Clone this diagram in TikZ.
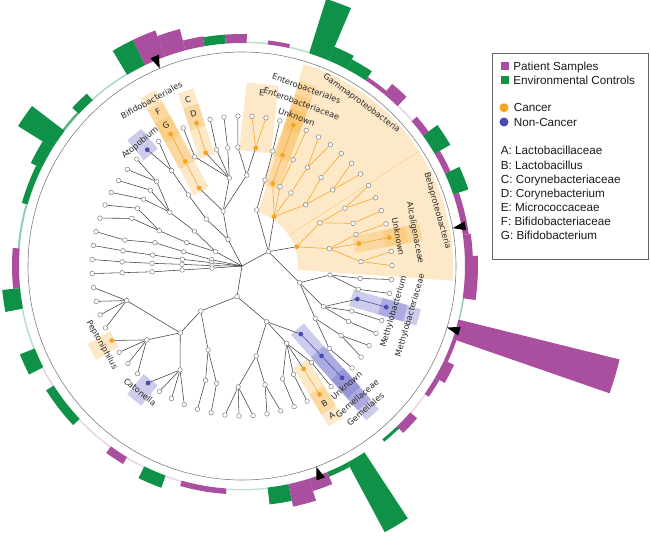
\documentclass[tikz,border=0pt]{standalone}
\usepackage{fontspec}
\setmainfont{Liberation Sans}
\newfontfamily\treefont{DejaVu Sans}
\usetikzlibrary{positioning}

\definecolor{patient}{RGB}{170,79,160}
\definecolor{control}{RGB}{15,145,72}
\definecolor{cancer}{RGB}{246,163,33}
\definecolor{noncancer}{RGB}{74,74,176}
\definecolor{hlorange}{RGB}{247,180,70}
\definecolor{hlblue}{RGB}{110,110,200}

\begin{document}
\begin{tikzpicture}[x=1pt, y=1pt,
    tnode/.style = {circle, draw=black!50, fill=white, line width=0.5pt,
        inner sep=0pt, minimum size=4.6pt},
    cnode/.style = {circle, fill=cancer, inner sep=0pt, minimum size=4.8pt},
    nnode/.style = {circle, fill=noncancer, inner sep=0pt, minimum size=4.8pt},
    tedge/.style = {draw=black!75, line width=0.55pt},
    cedge/.style = {draw=cancer, line width=0.55pt},
    nedge/.style = {draw=noncancer, line width=0.6pt},
    hlo/.style = {fill=hlorange, fill opacity=0.3},
    hlb/.style = {fill=hlblue, fill opacity=0.35},
    tlabel/.style = {font=\treefont\fontsize{8.2}{9.8}\selectfont,
        text=black!85, inner sep=0pt},
    ltext/.style = {font=\fontsize{11.7}{14}\selectfont, text=black!90,
        inner sep=0pt, text height=8.4pt, text depth=0pt, anchor=west},
    lsq/.style = {inner sep=0pt, minimum size=8pt},
    ldot/.style = {circle, inner sep=0pt, minimum size=9pt}]

\useasboundingbox (-242,-273) rectangle (408,266);

% Proteobacteria wedge
\fill[hlo] (-4:56) arc[start angle=-4, end angle=73, radius=56]
    -- (73:211) arc[start angle=73, end angle=-4, radius=211] -- cycle;
\draw[cancer!55, line width=0.5pt] (33:57) -- (33:211);

% Clade strips
\foreach \t/\ra/\rb/\w/\c in {
    118.6/85/196/8.5/hlo, 118.5/115/182/8.5/hlo, 118.4/145/167/8.5/hlo,
    107.8/115/184/8/hlo, 107.7/145/168/8/hlo,
    83.5/115/183/16/hlo,
    70/84/194/8.5/hlo, 70/114/180/8.5/hlo, 70/144/165/8.5/hlo,
    10.8/114/182/8.5/hlo, 10.8/145/168/8.5/hlo,
    301/114/182/8.5/hlo, 301/145/168/8.5/hlo,
    209.8/147/173/9/hlo,
    311.3/84/198/8.5/hlb, 311.4/114/185/8.5/hlb, 311.6/144/169/8.5/hlb,
    343.8/114/184/8.5/hlb, 343.9/144/170/8.5/hlb,
    129.3/144/170/9/hlb,
    231.2/146/172/9/hlb}
    \fill[\c, rotate=\t] (\ra,-\w) rectangle (\rb,\w);

% Inner circle
\draw[black!50, line width=0.6pt] (0,0) circle (214);

% Tree
\coordinate (root) at (0,0);
\def\innernodes{
    pAct/117.8/30/root/tnode/tedge, cAct/109/58/pAct/tnode/tedge,
    cCor/127.3/59/pAct/tnode/tedge, oActm/98.2/89/cAct/tnode/tedge,
    oMic/87/91/cAct/tnode/tedge, oBif/118.8/89/cAct/cnode/tedge,
    oCor/127/89/cCor/tnode/tedge, fk1/92/119/oMic/tnode/tedge,
    fE/83.4/119/oMic/cnode/tedge, fk2/96.9/119/oActm/tnode/tedge,
    fk3/102.3/119/oActm/tnode/tedge, fC/107.8/119/oActm/cnode/tedge,
    fk4/113.4/119/oActm/tnode/tedge, fF/118.5/119/oBif/cnode/cedge,
    fAt/126.4/118.6/oCor/tnode/tedge,
    pL1/151.5/30/root/tnode/tedge, cL1/143.7/59/pL1/tnode/tedge,
    cL2/157/60/pL1/tnode/tedge, oL1/143.3/90/cL1/tnode/tedge,
    oL2/156.9/90/cL2/tnode/tedge, fL1/135.3/120/oL1/tnode/tedge,
    fL2/140.4/119/oL1/tnode/tedge, fL3/145.8/119/oL1/tnode/tedge,
    fL4/151.1/119.5/oL2/tnode/tedge, fL5/156.6/120/oL2/tnode/tedge,
    pL3/168.4/31/root/tnode/tedge, cL3/166.3/60/pL3/tnode/tedge,
    oL3/165/90/cL3/tnode/tedge, fL6/167.5/120/oL3/tnode/tedge,
    pL4/173.8/30.5/root/tnode/tedge, cL4/173.6/60/pL4/tnode/tedge,
    oL4/173/90/cL4/tnode/tedge, fL7/172.7/120/oL4/tnode/tedge,
    pL5/179.4/30/root/tnode/tedge, cL5/178.4/60/pL5/tnode/tedge,
    oL5/178.3/90/cL5/tnode/tedge, fL8/178/120/oL5/tnode/tedge,
    pL6/184/30/root/tnode/tedge, cL6/183.8/60/pL6/tnode/tedge,
    oL6/183.7/90/cL6/tnode/tedge, fL9/183.2/120/oL6/tnode/tedge,
    pFir/260.8/31/root/tnode/tedge, cClo/227.5/61/pFir/tnode/tedge,
    oClo/227.3/91/cClo/tnode/tedge, oCl2/248/90.5/cClo/tnode/tedge,
    fc1/196.7/120.4/oClo/tnode/tedge, fc2/217.8/120.6/oClo/tnode/tedge,
    fc3/239.2/121/oClo/tnode/tedge, fc4/252.3/120/oCl2/tnode/tedge,
    fc5/257.8/120/oCl2/tnode/tedge,
    cBac/293.9/61/pFir/tnode/tedge, oBa1/279/91/cBac/tnode/tedge,
    oLac/300/89.3/cBac/tnode/tedge, oGem/310.8/90/cBac/nnode/tedge,
    fB1/268.2/121/oBa1/tnode/tedge, fB2/281/121/oBa1/tnode/tedge,
    fB3/289.8/120/oLac/tnode/tedge, fB4/295.4/120/oLac/tnode/tedge,
    fA/300.9/120/oLac/cnode/tedge, fB5/305.8/119/oLac/tnode/tedge,
    fGem/311.5/120/oGem/nnode/nedge,
    pPro/28.5/30/root/tnode/tedge, cGam/57/59/pPro/cnode/tedge,
    cBet/19.4/58/pPro/cnode/tedge, cX/75.3/58/pPro/tnode/tedge,
    cAlp/343.8/60/pPro/tnode/tedge, oX/75/89/cX/tnode/tedge,
    fX/75/119/oX/tnode/tedge,
    oEnt/69.6/88/cGam/cnode/cedge, oG2/64.4/88/cGam/tnode/cedge,
    oG3/56.2/88/cGam/tnode/cedge, oG4/43.9/88.4/cGam/tnode/cedge,
    fEnt/69.9/118/oEnt/cnode/cedge, fG2/64.3/118/oG2/tnode/cedge,
    fG3/56.4/118.5/oG3/tnode/cedge, fG4/48.2/118.5/oG4/tnode/cedge,
    fG5/40/118.3/oG4/tnode/cedge,
    oBe1/29/89/cBet/tnode/cedge, oBe2/11.2/89/cBet/tnode/cedge,
    fb1/29.3/118/oBe1/tnode/cedge, fb2/21/119/oBe1/tnode/cedge,
    fb3/15.5/118.3/oBe2/tnode/cedge, fAlc/10.9/119/oBe2/cnode/cedge,
    fb4/2.1/119/oBe2/tnode/cedge,
    oA1/354.2/88.5/cAlp/tnode/tedge, oA2/333.4/91/cAlp/tnode/tedge,
    oA3/324.4/90/cAlp/tnode/tedge, fh1/348.7/118.6/oA1/tnode/tedge,
    fh2/354/119/oA1/tnode/tedge, fMet/344/120/oA2/nnode/tedge,
    fh3/337.7/118.6/oA2/tnode/tedge, fh4/332.5/120/oA2/tnode/tedge,
    fh5/325/121/oA3/tnode/tedge, fh6/316.6/120/oA3/tnode/tedge}

\foreach \n/\ang/\r/\p/\s/\e in \innernodes
    \node[\s] (\n) at (\ang:\r) {};
\foreach \n/\ang/\r/\p/\s/\e in \innernodes
    \draw[\e] (\n) -- (\p);

% Leaves
\foreach \i/\p/\s/\e in {
    0/fE/tnode/cedge, 1/fE/tnode/cedge, 2/fk1/tnode/tedge, 3/fk2/tnode/tedge,
    4/fk3/tnode/tedge, 5/fC/cnode/cedge, 6/fk4/tnode/tedge, 7/fF/cnode/cedge,
    8/fAt/tnode/tedge, 9/fAt/nnode/tedge, 10/fL1/tnode/tedge, 11/fL1/tnode/tedge,
    12/fL2/tnode/tedge, 13/fL3/tnode/tedge, 14/fL4/tnode/tedge, 15/fL5/tnode/tedge,
    16/fL6/tnode/tedge, 17/fL7/tnode/tedge, 18/fL8/tnode/tedge, 19/fL9/tnode/tedge,
    20/fc1/tnode/tedge, 21/fc1/tnode/tedge, 22/fc1/tnode/tedge, 23/fc1/tnode/tedge,
    24/fc2/cnode/tedge, 25/fc2/tnode/tedge, 26/fc2/tnode/tedge, 27/fc2/tnode/tedge,
    28/fc3/nnode/tedge, 29/fc3/tnode/tedge, 30/fc3/tnode/tedge, 31/fc3/tnode/tedge,
    32/fc4/tnode/tedge, 33/fc5/tnode/tedge, 34/fB1/tnode/tedge, 35/fB1/tnode/tedge,
    36/fB1/tnode/tedge, 37/fB2/tnode/tedge, 38/fB2/tnode/tedge, 39/fB3/tnode/tedge,
    40/fB4/tnode/tedge, 41/fA/cnode/cedge, 42/fB5/tnode/tedge, 43/fGem/nnode/nedge,
    44/fh6/tnode/tedge, 45/fh5/tnode/tedge, 46/fh5/tnode/tedge, 47/fh4/tnode/tedge,
    48/fh3/tnode/tedge, 49/fMet/nnode/nedge, 50/fh1/tnode/tedge, 51/fh2/tnode/tedge,
    52/fb4/tnode/cedge, 53/fb4/tnode/cedge, 54/fAlc/cnode/cedge, 55/fb3/tnode/cedge,
    56/fb2/tnode/cedge, 57/fb1/tnode/cedge, 58/fb1/tnode/cedge, 59/fG5/tnode/cedge,
    60/fG5/tnode/cedge, 61/fG4/tnode/cedge, 62/fG3/tnode/cedge, 63/fG3/tnode/cedge,
    64/fG2/tnode/cedge, 65/fEnt/cnode/cedge, 66/fX/tnode/tedge}
{
    \pgfmathsetmacro\ang{80.8+5.373*\i}
    \node[\s] (l\i) at (\ang:150) {};
    \draw[\e] (l\i) -- (\p);
}

% Clade labels
\foreach \t/\r/\txt [count=\j] in {
    118.6/189/Bifidobacteriales, 118.5/176/F, 118.4/160/G,
    108/175/C, 107.7/159.5/D, 83.5/174/E,
    70/189/Enterobacteriales, 69.9/173.3/Enterobacteriaceae, 69.9/159/Unknown,
    53.7/202/Gammaproteobacteria, 15.8/203/Betaproteobacteria,
    10.8/176/Alcaligenaceae, 10.7/159/Unknown,
    343.6/175.5/Methylobacteriaceae, 343.3/158.5/Methylobacterium,
    310.8/189/Gemellales, 311/175.5/Gemellaceae, 311.2/158.7/Unknown,
    301/174.3/A, 301/160/B,
    231/162/Catonella, 209.4/161/Peptoniphilus, 129.6/159.6/Atopobium}
{
    \pgfmathsetmacro\rot{\t>180 ? \t-270 : \t-90}
    \node[tlabel, rotate=\rot] (lab\j) at (\t:\r) {\txt};
}

% Sample bars
\foreach \a/\b/\r/\c in {
    121/132/224.5/control!35, 132/137/232/control, 137/142.7/225.5/control!70,
    142.7/148/264/control, 148/154/235/control, 154/164/229/control,
    164/175.5/225/control!45, 175.5/185.7/230/patient, 185.7/191/241/control,
    191/201.7/224.5/control!30, 201.7/207/239/control, 207/212.4/224.5/patient!25,
    212.4/223.3/232/control, 223.3/234/224.5/patient!25, 234/239/231/patient,
    239/244/224.5/patient!25, 244/250/236/control, 250/254.3/224.5/patient!25,
    254.3/266/228.5/patient, 266/276.6/224.5/control!25, 276.6/282/240/control,
    282/287.5/246/patient, 287.5/292.5/236/patient, 292.5/298.2/228/control,
    298.2/303.3/302/control, 309/314/226/control, 314/319/232/patient,
    319/325/224.5/patient!25, 325/330/228/patient, 330/335/234/patient,
    335/340.9/227/patient, 340.9/346.1/389/patient, 346.1/351.7/224.5/control!45,
    351.7/362.5/236/patient, 2.5/8/231/patient, 8/18.7/229/patient,
    18.7/24.5/239/control, 24.5/30.2/229/patient, 30.2/35.8/241/control,
    35.8/40.5/230/patient, 40.5/45.8/224.5/patient!25, 45.8/50.5/236/patient,
    50.5/56.3/227/patient, 56.3/62/234/control, 62/67.1/238/control,
    67.1/72.5/280/control, 72.5/77.8/224.5/control!30, 77.8/83.4/227/patient,
    83.4/88.8/224.5/control!30, 88.8/94.2/232/patient, 94.2/99.7/232/control,
    99.7/104.7/233/patient, 104.7/110.2/245/patient, 110.2/115.8/251/patient,
    115.8/121/251/control}
    \fill[\c] (\a:223) arc[start angle=\a, end angle=\b, radius=223]
        -- (\b:\r) arc[start angle=\b, end angle=\a, radius=\r] -- cycle;

% Markers
\foreach \t in {112.6, 10.2, -16.7, -69.7}
    \fill[black, rotate=\t] (214,0) -- (227,4.5) -- (227,-4.5) -- cycle;

% Legend
\draw[black!60, line width=0.9pt] (250,7) rectangle (406.5,213);
\node[lsq, fill=patient] (sqP) at (262.5,200.2) {};
\node[ltext, right=4.5pt of sqP] (txP) {Patient Samples};
\node[lsq, fill=control] (sqE) at (262.5,186) {};
\node[ltext, right=4.5pt of sqE] (txE) {Environmental Controls};
\node[ldot, fill=cancer] (dtC) at (262,158.3) {};
\node[ltext, right=5pt of dtC] (txC) {Cancer};
\node[ldot, fill=noncancer] (dtN) at (262,144) {};
\node[ltext, right=5pt of dtN] (txN) {Non-Cancer};
\foreach \k/\txt [count=\j] in {A/Lactobacillaceae, B/Lactobacillus,
    C/Corynebacteriaceae, D/Corynebacterium, E/Micrococcaceae,
    F/Bifidobacteriaceae, G/Bifidobacterium}
    \node[ltext] (key\k) at ({258.7},{115.3-14.17*(\j-1)}) {\k: \txt};
\end{tikzpicture}
\end{document}
